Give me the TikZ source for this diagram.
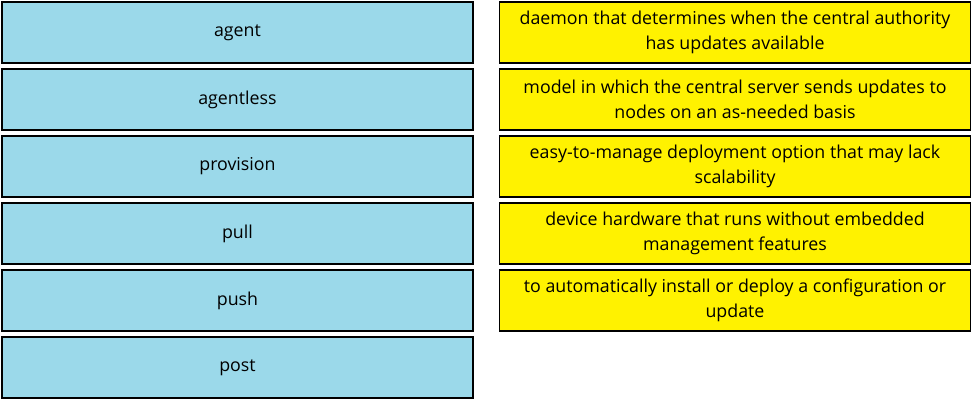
\documentclass[tikz,border=0pt]{standalone}
\usepackage{fontspec}
\setmainfont{Open Sans}
\usepackage{xcolor}
\usepackage{tikz}
\usetikzlibrary{positioning,calc}

\definecolor{termblue}{RGB}{155,217,234}
\definecolor{defyellow}{RGB}{255,242,0}

\begin{document}
\begin{tikzpicture}[x=1pt, y=-1pt,
	term/.style={rectangle, draw=black, line width=1.2pt, fill=termblue, minimum width=471pt, minimum height=61pt, inner sep=0pt, font=\fontsize{17.8}{25}\selectfont},
	defn/.style={rectangle, draw=black, line width=1.2pt, fill=defyellow, minimum width=471pt, minimum height=61pt, inner sep=0pt, align=center, font=\fontsize{17.8}{25}\selectfont}]
						\useasboundingbox (0,0) rectangle (973,401);
						\node[term] (agent)     at (237.5,32.5)  {agent};
						\node[term] (agentless) at (237.5,99.5)  {agentless};
						\node[term] (provision) at (237.5,166.5) {provision};
						\node[term] (pull)      at (237.5,233.5) {pull};
						\node[term] (push)      at (237.5,300.5) {push};
						\node[term] (post)      at (237.5,367.5) {post};
						\node[defn] (daemon)  at (735,32.5)  {daemon that determines when the central authority\\has updates available};
						\node[defn] (model)   at (735,99.5)  {model in which the central server sends updates to\\nodes on an as-needed basis};
						\node[defn] (easy)    at (735,166.5) {easy-to-manage deployment option that may lack\\scalability};
						\node[defn] (device)  at (735,233.5) {device hardware that runs without embedded\\management features};
						\node[defn] (install) at (735,300.5) {to automatically install or deploy a configuration or\\update};
					\end{tikzpicture}
\end{document}
